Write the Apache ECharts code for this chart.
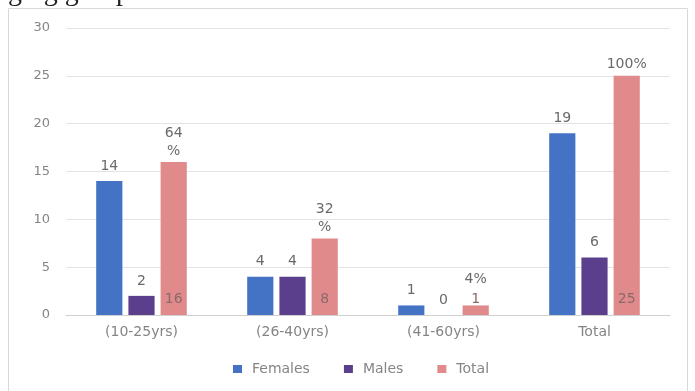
<!DOCTYPE html>
<html>
<head>
<meta charset="utf-8">
<script src="https://cdn.jsdelivr.net/npm/echarts@6/dist/echarts.min.js"></script>
<style>
  html, body { margin: 0; padding: 0; background: #fff; }
  #chart { width: 695px; height: 391px; }
</style>
</head>
<body>
<div id="chart"></div>
<script>
// Age groups and counts
const categories = ['(10-25yrs)', '(26-40yrs)', '(41-60yrs)', 'Total'];
const females = [14, 4, 1, 19];
const males = [2, 4, 0, 6];
const totals = [16, 8, 1, 25];
const totalShares = ['64\n%', '32\n%', '4%', '100%'];
const yTicks = { min: 0, max: 30, interval: 5 };

const COLORS = { females: '#4472C4', males: '#5B3F8D', total: '#E08A8B' };
const TEXT = '#858585';
const VALUE_TEXT = '#6a6a6a';
const FONT = '"DejaVu Sans", sans-serif';

const chart = echarts.init(document.getElementById('chart'), null, { renderer: 'canvas' });

const emptyRow = categories.map(() => '-');

const barCommon = {
  type: 'bar',
  barGap: '23%',
  barCategoryGap: '40%'
};

// Share labels: the one above a very short bar is lifted clear of its count label
const shareData = totals.map((v) => (v < 2
  ? { value: v, label: { distance: 17 } }
  : v));

chart.setOption({
  animation: false,
  backgroundColor: '#fff',
  textStyle: { fontFamily: FONT },
  graphic: [
    {
      type: 'rect',
      shape: { x: 8.5, y: 8.5, width: 679, height: 400 },
      style: { fill: 'none', stroke: '#d9d9d9', lineWidth: 1 },
      silent: true
    },
    {
      type: 'text',
      left: 8, top: -21,
      style: { text: 'ging group', font: '28px "Liberation Serif", serif', fill: '#222' },
      silent: true
    }
  ],
  legend: {
    data: ['Females', 'Males', 'Total'],
    bottom: 10,
    left: 228,
    icon: 'rect',
    itemWidth: 9,
    itemHeight: 8,
    itemGap: 34,
    textStyle: { color: TEXT, fontSize: 14, fontFamily: FONT, padding: [0, 0, 0, 5] }
  },
  grid: { left: 66, right: 25, top: 28, bottom: 76, containLabel: false },
  xAxis: [
    {
      type: 'category',
      data: categories,
      axisTick: { show: false },
      axisLine: { lineStyle: { color: '#d0d0d0' } },
      axisLabel: { color: TEXT, fontSize: 14, margin: 10, fontFamily: FONT }
    },
    {
      type: 'category',
      data: categories,
      show: false
    }
  ],
  yAxis: {
    type: 'value',
    min: yTicks.min,
    max: yTicks.max,
    interval: yTicks.interval,
    axisLine: { show: false },
    axisTick: { show: false },
    axisLabel: { color: TEXT, fontSize: 13, margin: 16, fontFamily: FONT },
    splitLine: { lineStyle: { color: '#e3e3e3' } }
  },
  series: [
    Object.assign({}, barCommon, {
      name: 'Females',
      data: females,
      itemStyle: { color: COLORS.females },
      label: { show: true, position: 'top', distance: 8, color: VALUE_TEXT, fontSize: 14 }
    }),
    Object.assign({}, barCommon, {
      name: 'Males',
      data: males,
      itemStyle: { color: COLORS.males },
      label: { show: true, position: 'top', distance: 8, color: VALUE_TEXT, fontSize: 14 }
    }),
    Object.assign({}, barCommon, {
      name: 'Total',
      data: shareData,
      itemStyle: { color: COLORS.total },
      label: {
        show: true, position: 'top', distance: 2, color: VALUE_TEXT, fontSize: 14,
        lineHeight: 18,
        formatter: p => totalShares[p.dataIndex]
      }
    }),
    // Count labels at the foot of the Total bars (same slot layout on a hidden axis)
    Object.assign({}, barCommon, {
      name: 'femalesSlot', xAxisIndex: 1, data: emptyRow, silent: true
    }),
    Object.assign({}, barCommon, {
      name: 'malesSlot', xAxisIndex: 1, data: emptyRow, silent: true
    }),
    Object.assign({}, barCommon, {
      name: 'totalCount', xAxisIndex: 1, data: totals, silent: true,
      itemStyle: { color: 'rgba(0,0,0,0)' },
      label: { show: true, position: 'insideBottom', distance: 9, color: '#8a6a6a', fontSize: 14 }
    })
  ]
});
</script>
</body>
</html>
